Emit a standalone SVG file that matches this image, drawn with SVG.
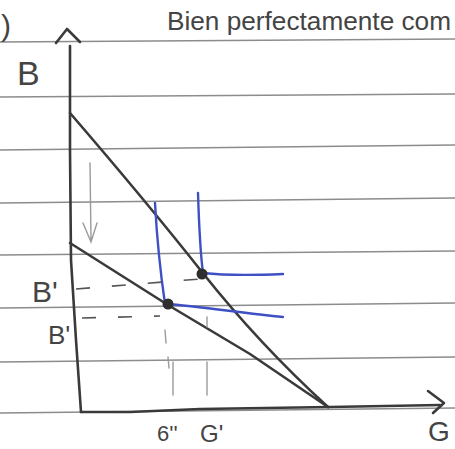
<svg xmlns="http://www.w3.org/2000/svg" width="455" height="449" viewBox="0 0 455 449">
<style>
.paper{stroke:#8c8c8c;stroke-width:1.6;fill:none}
.ink{stroke:#3a3a3a;stroke-width:2.6;fill:none;stroke-linecap:round;stroke-linejoin:round}
.blue{stroke:#3f4fc4;stroke-width:2.4;fill:none;stroke-linecap:round;stroke-linejoin:round}
.dash{stroke:#555;stroke-width:1.6;fill:none;stroke-dasharray:14 22}
.pencil{stroke:#9a9a9a;stroke-width:1.4;fill:none;stroke-linecap:round}
.lbl{font-family:"Liberation Sans",Arial,sans-serif;fill:#444}
</style>
<rect width="455" height="449" fill="#ffffff"/>
<g id="paper-lines">
<line class="paper" x1="0" y1="42" x2="455" y2="39"/>
<line class="paper" x1="0" y1="97" x2="455" y2="94"/>
<line class="paper" x1="0" y1="150" x2="455" y2="145"/>
<line class="paper" x1="0" y1="203" x2="455" y2="198"/>
<line class="paper" x1="0" y1="255" x2="455" y2="251"/>
<line class="paper" x1="0" y1="308" x2="455" y2="303"/>
<line class="paper" x1="0" y1="362" x2="455" y2="357"/>
<line class="paper" x1="0" y1="413" x2="455" y2="408"/>
</g>
<g id="axes">
<path class="ink" d="M70,46 L70,150 L71,260 L76,340 L81,412"/>
<path class="ink" d="M56,43 L67,29 L80,42"/>
<path class="ink" d="M81,412 L130,412 L200,409 L330,407 L440,405"/>
<path class="ink" d="M428,391 L444,403 L433,413"/>
</g>
<g id="budget-lines">
<path class="ink" d="M70,113 Q145,200 202,272 T328,407"/>
<path class="ink" d="M70,243 L168,305 L250,354 L328,407"/>
</g>
<g id="indifference-curves">
<path class="blue" d="M155,203 C157,240 160,270 165,304 C200,306 240,313 283,317"/>
<path class="blue" d="M198,193 C199,225 200,250 203,273 C230,276 260,275 283,274"/>
</g>
<g id="points">
<circle cx="202" cy="274" r="5.5" fill="#2e2e2e"/>
<circle cx="168" cy="304" r="5.5" fill="#2e2e2e"/>
</g>
<g id="guides">
<path class="dash" d="M76,289 L200,279"/>
<path class="dash" d="M82,318 L160,316"/>
<line class="pencil" x1="165" y1="330" x2="166" y2="343"/>
<line class="pencil" x1="207" y1="317" x2="207" y2="327"/>
<line class="pencil" x1="173" y1="362" x2="173" y2="395"/>
<line class="pencil" x1="207" y1="362" x2="207" y2="395"/>
<line class="pencil" x1="168" y1="357" x2="169" y2="368"/>
<path class="pencil" d="M90,163 L91,240 M83,223 L91,242 L97,223"/>
</g>
<g id="labels">
<text class="lbl" x="1" y="36" font-size="30">)</text>
<text class="lbl" x="167" y="30" font-size="26" textLength="284" lengthAdjust="spacingAndGlyphs">Bien perfectamente com</text>
<text class="lbl" x="17" y="85" font-size="34">B</text>
<text class="lbl" x="32" y="302" font-size="30">B'</text>
<text class="lbl" x="48" y="344" font-size="26">B'</text>
<text class="lbl" x="157" y="441" font-size="22">6''</text>
<text class="lbl" x="200" y="442" font-size="24">G'</text>
<text class="lbl" x="428" y="441" font-size="28">G</text>
</g>
</svg>
